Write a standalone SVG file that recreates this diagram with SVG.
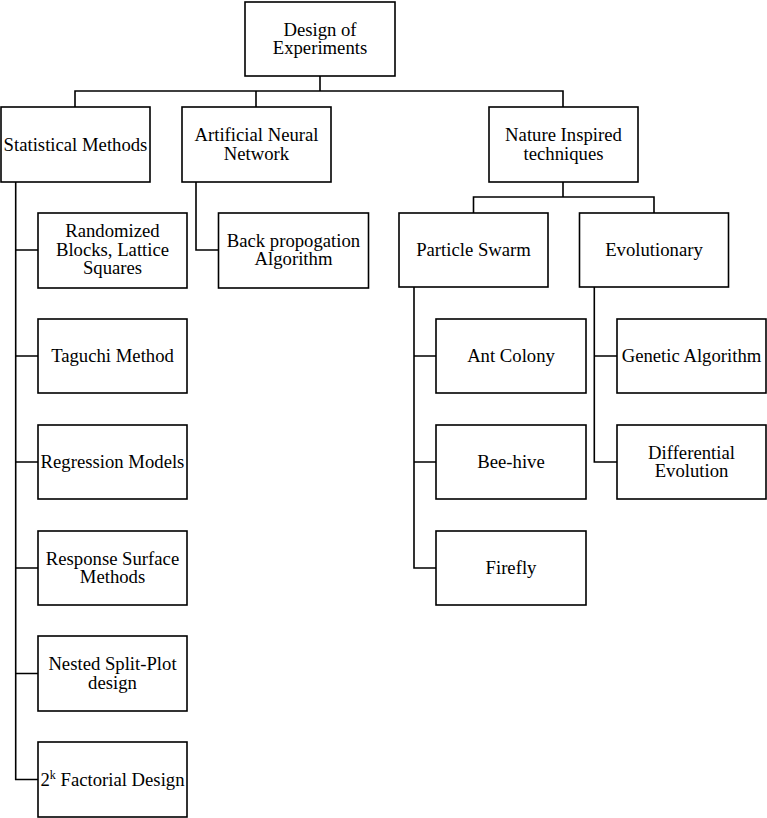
<svg xmlns="http://www.w3.org/2000/svg" width="767" height="818" viewBox="0 0 767 818">
<style>
rect.box{fill:#fff;stroke:#000;stroke-width:1.6}
text{font-family:"Liberation Serif","Times New Roman",serif;font-size:18.7px;fill:#000;text-anchor:middle}
.con{fill:none;stroke:#000;stroke-width:1.6}
</style>
<rect width="767" height="818" fill="#fff"/>
<g id="connectors" class="con">
<path d="M320,76 V91 M75,107 V91 H563 V107 M256,91 V107"/>
<path d="M563,182 V197 M473.5,213 V197 H654 V213"/>
<path d="M15.7,182 V779.5 H38 M15.7,250 H38 M15.7,356 H38 M15.7,462 H38 M15.7,568 H38 M15.7,673.5 H38"/>
<path d="M196,182 V250 H218.5"/>
<path d="M414,287 V568 H436 M414,356 H436 M414,462 H436"/>
<path d="M594.3,287 V462 H617 M594.3,356 H617"/>
</g>
<g id="n-root"><rect class="box" x="245" y="2" width="150" height="74"/><text x="320" y="35.7">Design of</text><text x="320" y="54.3">Experiments</text></g>
<g id="n-stat"><rect class="box" x="1" y="107" width="149" height="75"/><text x="75.5" y="150.5">Statistical Methods</text></g>
<g id="n-ann"><rect class="box" x="182" y="107" width="149" height="75"/><text x="256.5" y="141.2">Artificial Neural</text><text x="256.5" y="159.8">Network</text></g>
<g id="n-nature"><rect class="box" x="489" y="107" width="149" height="75"/><text x="563.5" y="141.2">Nature Inspired</text><text x="563.5" y="159.8">techniques</text></g>
<g id="n-ps"><rect class="box" x="399" y="213" width="149" height="74"/><text x="473.5" y="256">Particle Swarm</text></g>
<g id="n-evo"><rect class="box" x="579.5" y="213" width="149" height="74"/><text x="654" y="256">Evolutionary</text></g>
<g id="n-rand"><rect class="box" x="38" y="213" width="149" height="75"/><text x="112.5" y="236.8">Randomized</text><text x="112.5" y="255.5">Blocks, Lattice</text><text x="112.5" y="274.2">Squares</text></g>
<g id="n-bp"><rect class="box" x="218.5" y="213" width="150" height="75"/><text x="293.5" y="246.7">Back propogation</text><text x="293.5" y="265.3">Algorithm</text></g>
<g id="n-taguchi"><rect class="box" x="38" y="319" width="149" height="74"/><text x="112.5" y="362">Taguchi Method</text></g>
<g id="n-reg"><rect class="box" x="38" y="425" width="149" height="74"/><text x="112.5" y="468">Regression Models</text></g>
<g id="n-rsm"><rect class="box" x="38" y="531" width="149" height="74"/><text x="112.5" y="564.7">Response Surface</text><text x="112.5" y="583.3">Methods</text></g>
<g id="n-nested"><rect class="box" x="38" y="636" width="149" height="75"/><text x="112.5" y="670.2">Nested Split-Plot</text><text x="112.5" y="688.8">design</text></g>
<g id="n-fact"><rect class="box" x="38" y="742" width="149" height="75"/><text x="112.5" y="785.5">2<tspan font-size="12" dy="-7">k</tspan><tspan dy="7"> Factorial Design</tspan></text></g>
<g id="n-ant"><rect class="box" x="436" y="319" width="150" height="74"/><text x="511" y="362">Ant Colony</text></g>
<g id="n-bee"><rect class="box" x="436" y="425" width="150" height="74"/><text x="511" y="468">Bee-hive</text></g>
<g id="n-firefly"><rect class="box" x="436" y="531" width="150" height="74"/><text x="511" y="574">Firefly</text></g>
<g id="n-ga"><rect class="box" x="617" y="319" width="149" height="74"/><text x="691.5" y="362">Genetic Algorithm</text></g>
<g id="n-de"><rect class="box" x="617" y="425" width="149" height="74"/><text x="691.5" y="458.7">Differential</text><text x="691.5" y="477.3">Evolution</text></g>
</svg>
